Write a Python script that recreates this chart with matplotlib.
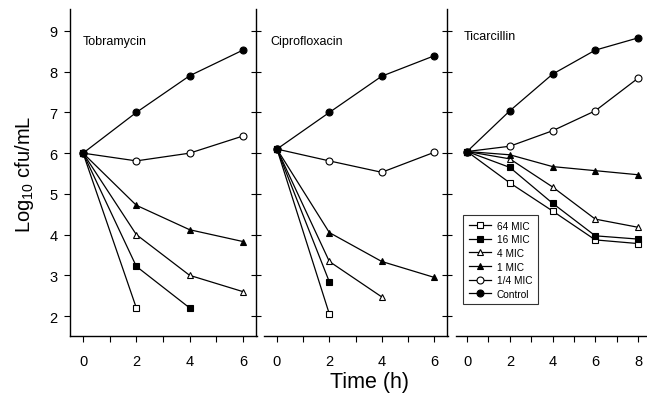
import matplotlib
matplotlib.use("Agg")
import matplotlib.pyplot as plt
from matplotlib.ticker import MultipleLocator

plt.rcParams['font.family'] = ['Liberation Sans', 'DejaVu Sans']
plt.rcParams['mathtext.fontset'] = 'custom'
plt.rcParams['mathtext.rm'] = 'Liberation Sans'
plt.rcParams['mathtext.it'] = 'Liberation Sans:italic'
plt.rcParams['mathtext.bf'] = 'Liberation Sans:bold'

labels = ["64 MIC", "16 MIC", "4 MIC", "1 MIC", "1/4 MIC", "Control"]
markers = ["s", "s", "^", "^", "o", "o"]
filled = [False, True, False, True, False, True]

titles = ["Tobramycin", "Ciprofloxacin", "Ticarcillin"]

# Tobramycin
tob_t = {
    "64 MIC": [0, 2], "16 MIC": [0, 2, 4], "4 MIC": [0, 2, 4, 6],
    "1 MIC": [0, 2, 4, 6], "1/4 MIC": [0, 2, 4, 6], "Control": [0, 2, 4, 6],
}
tob_v = {
    "64 MIC": [6.0, 2.2], "16 MIC": [6.0, 3.22, 2.2], "4 MIC": [6.0, 4.0, 3.0, 2.6],
    "1 MIC": [6.0, 4.72, 4.12, 3.83], "1/4 MIC": [6.0, 5.81, 6.0, 6.42],
    "Control": [6.0, 7.0, 7.9, 8.53],
}
# Ciprofloxacin
cip_t = {
    "64 MIC": [0, 2], "16 MIC": [0, 2], "4 MIC": [0, 2, 4],
    "1 MIC": [0, 2, 4, 6], "1/4 MIC": [0, 2, 4, 6], "Control": [0, 2, 4, 6],
}
cip_v = {
    "64 MIC": [6.1, 2.05], "16 MIC": [6.1, 2.84], "4 MIC": [6.1, 3.34, 2.47],
    "1 MIC": [6.1, 4.05, 3.34, 2.95], "1/4 MIC": [6.1, 5.81, 5.53, 6.02],
    "Control": [6.1, 7.0, 7.89, 8.39],
}
# Ticarcillin
tic_times = [0, 2, 4, 6, 8]
tic_t = {k: tic_times for k in labels}
tic_v = {
    "64 MIC": [6.04, 5.27, 4.58, 3.87, 3.78],
    "16 MIC": [6.04, 5.65, 4.77, 3.97, 3.89],
    "4 MIC": [6.04, 5.86, 5.17, 4.38, 4.18],
    "1 MIC": [6.04, 5.96, 5.67, 5.57, 5.47],
    "1/4 MIC": [6.04, 6.17, 6.55, 7.04, 7.84],
    "Control": [6.04, 7.04, 7.94, 8.53, 8.83],
}
x_ticks = [[0, 2, 4, 6], [0, 2, 4, 6], [0, 2, 4, 6, 8]]
y_ticks = [2, 3, 4, 5, 6, 7, 8, 9]

W, H = 647, 406
fig = plt.figure(figsize=(W / 100, H / 100), dpi=100)

bottom = 1 - 337 / H
height = (337 - 10) / H
pos = [(70, 257), (256, 448), (447, 647)]
xlims = [(-0.49, 6.53), (-0.80, 6.53), (-0.94, 8.42)]
title_xy = [(0.0, 8.75), (-0.27, 8.75), (-0.14, 8.88)]
datasets = [(tob_t, tob_v), (cip_t, cip_v), (tic_t, tic_v)]

axes = []
for i in range(3):
    l, r = pos[i]
    ax = fig.add_axes([l / W, bottom, (r - l) / W, height])
    axes.append(ax)
    ax.set_xlim(*xlims[i])
    ax.set_ylim(1.51, 9.54)
    ax.spines['top'].set_visible(False)
    ax.spines['right'].set_visible(False)
    for s in ['left', 'bottom']:
        ax.spines[s].set_linewidth(1.0)
    ax.set_xticks(x_ticks[i])
    ax.xaxis.set_minor_locator(MultipleLocator(1))
    ax.set_yticks(y_ticks)
    ax.tick_params(axis='x', which='both', direction='out', length=4, width=0.8,
                   labelsize=10.5, pad=9)
    if i == 0:
        ax.tick_params(axis='y', direction='out', length=4, width=0.8, labelsize=10.5, pad=5)
    else:
        ax.tick_params(axis='y', direction='inout', length=7, width=0.8, labelleft=False)
        ax.spines['bottom'].set_bounds(-0.5, xlims[i][1])
    tt, vv = datasets[i]
    for lab, m, f in zip(labels, markers, filled):
        ax.plot(tt[lab], vv[lab], color='black', lw=0.9, marker=m, markersize=5 if m == 'o' else 4.6,
                markerfacecolor='black' if f else 'white', markeredgecolor='black',
                markeredgewidth=0.8, label=lab, zorder=3)
    ax.text(title_xy[i][0], title_xy[i][1], titles[i], fontsize=9, ha='left', va='center')
    ax.patch.set_alpha(0)

leg = axes[2].legend(loc='upper left', bbox_to_anchor=(0.08, 0.369), borderaxespad=0,
                     fontsize=7.3, frameon=True, fancybox=False, edgecolor='black',
                     handlelength=2.2, handletextpad=0.6, labelspacing=0.35,
                     borderpad=0.55)
leg.get_frame().set_linewidth(0.8)

fig.text(24 / W, 1 - 174 / H, r'Log$_{10}$ cfu/mL', rotation=90, ha='center', va='center',
         fontsize=14.5)
fig.text(370 / W, 1 - 383 / H, 'Time (h)', ha='center', va='center', fontsize=15.5)

fig.savefig('out.png', dpi=100)
